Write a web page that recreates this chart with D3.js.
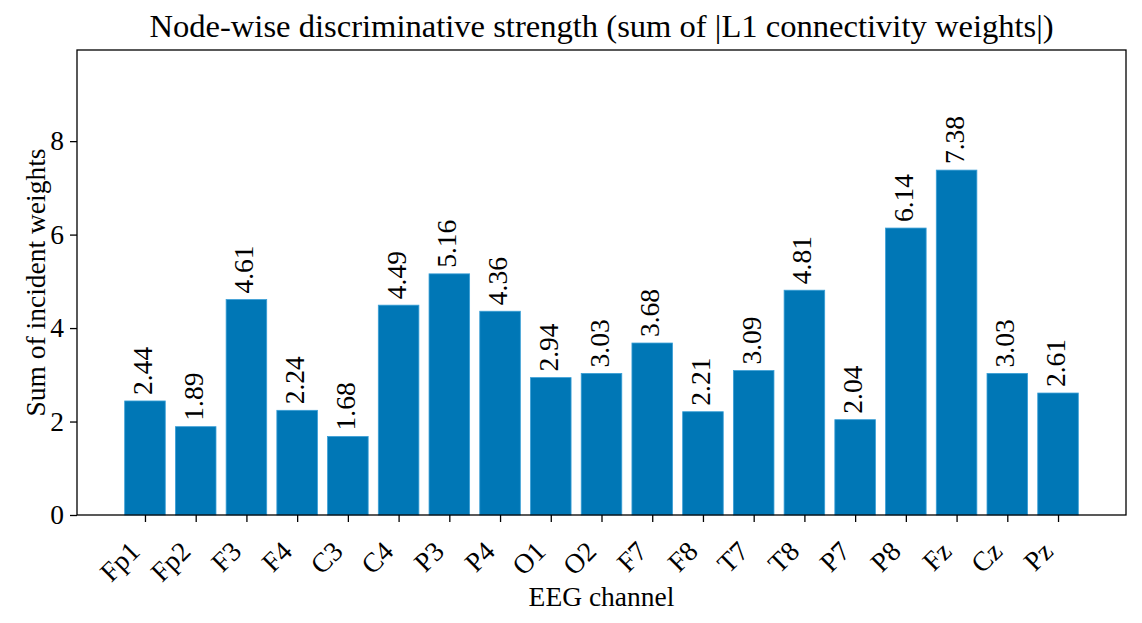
<!DOCTYPE html>
<html>
<head>
<meta charset="utf-8">
<script src="https://cdn.jsdelivr.net/npm/d3@7"></script>
<style>
  body { margin: 0; background: #fff; }
  svg { display: block; font-family: "Liberation Serif", "DejaVu Serif", serif; }
</style>
</head>
<body>
<svg id="chart"></svg>
<script>
var channels = ["Fp1", "Fp2", "F3", "F4", "C3", "C4", "P3", "P4", "O1", "O2",
                "F7", "F8", "T7", "T8", "P7", "P8", "Fz", "Cz", "Pz"];
var strength = [2.44, 1.89, 4.61, 2.24, 1.68, 4.49, 5.16, 4.36, 2.94, 3.03,
                3.68, 2.21, 3.09, 4.81, 2.04, 6.14, 7.38, 3.03, 2.61];
var yTicks = [0, 2, 4, 6, 8];

var width = 1142,
    height = 623,
    plotLeft = 77,
    plotRight = 1126,
    plotTop = 50,
    plotBottom = 515,
    fontSize = 27.5;

var svg = d3.select("#chart")
    .attr("width", width)
    .attr("height", height);

// matplotlib style: bars at integer positions, width 0.8, 5% margins
var n = channels.length;
var span = (n - 1) + 0.8;
var x = d3.scaleLinear()
    .domain([-0.4 - span * 0.05, n - 1 + 0.4 + span * 0.05])
    .range([plotLeft, plotRight]);

var y = d3.scaleLinear()
    .domain([0, 9.95])
    .range([plotBottom, plotTop]);

var barColor = "#0077b6";

svg.selectAll("rect.bar")
    .data(strength)
    .enter()
    .append("rect")
    .attr("class", "bar")
    .attr("x", function (d, i) { return x(i - 0.4); })
    .attr("width", x(0.8) - x(0))
    .attr("y", function (d) { return y(d); })
    .attr("height", function (d) { return y(0) - y(d); })
    .attr("fill", barColor)
    .attr("stroke", "#3a9fd6")
    .attr("stroke-width", 0.8);

// value labels, rotated
svg.selectAll("text.val")
    .data(strength)
    .enter()
    .append("text")
    .attr("class", "val")
    .attr("transform", function (d, i) {
        return "translate(" + (x(i) + 7) + "," + (y(d) - 6) + ") rotate(-90)";
    })
    .attr("text-anchor", "start")
    .attr("font-family", "Liberation Serif")
    .attr("font-size", fontSize)
    .attr("fill", "#000")
    .text(function (d) { return d.toFixed(2); });

// frame
svg.append("rect")
    .attr("x", plotLeft)
    .attr("y", plotTop)
    .attr("width", plotRight - plotLeft)
    .attr("height", plotBottom - plotTop)
    .attr("fill", "none")
    .attr("stroke", "#000")
    .attr("stroke-width", 1.3);

// y axis
var yAxis = d3.axisLeft(y)
    .tickValues(yTicks)
    .tickSize(7)
    .tickPadding(6)
    .tickFormat(d3.format("d"));

var gy = svg.append("g")
    .attr("transform", "translate(" + plotLeft + ",0)")
    .call(yAxis);
gy.select(".domain").remove();
gy.selectAll("line").attr("stroke", "#000").attr("stroke-width", 1.3);
gy.selectAll("text")
    .attr("font-family", "Liberation Serif")
    .attr("font-size", fontSize)
    .attr("fill", "#000");

// x axis
var xAxis = d3.axisBottom(x)
    .tickValues(d3.range(n))
    .tickSize(7)
    .tickFormat(function (d) { return channels[d]; });

var gx = svg.append("g")
    .attr("transform", "translate(0," + plotBottom + ")")
    .call(xAxis);
gx.select(".domain").remove();
gx.selectAll("line").attr("stroke", "#000").attr("stroke-width", 1.3);
gx.selectAll("text")
    .attr("font-family", "Liberation Serif")
    .attr("font-size", fontSize)
    .attr("fill", "#000")
    .attr("text-anchor", "end")
    .attr("y", 0)
    .attr("dy", 0)
    .attr("transform", "translate(-4,38) rotate(-45)");

// title and axis labels
svg.append("text")
    .attr("x", (plotLeft + plotRight) / 2)
    .attr("y", 37)
    .attr("text-anchor", "middle")
    .attr("font-size", 32.6)
    .text("Node-wise discriminative strength (sum of |L1 connectivity weights|)");

svg.append("text")
    .attr("x", (plotLeft + plotRight) / 2)
    .attr("y", 606)
    .attr("text-anchor", "middle")
    .attr("font-size", fontSize)
    .text("EEG channel");

svg.append("text")
    .attr("transform", "translate(45," + ((plotTop + plotBottom) / 2) + ") rotate(-90)")
    .attr("text-anchor", "middle")
    .attr("font-size", fontSize)
    .text("Sum of incident weights");
</script>
</body>
</html>
